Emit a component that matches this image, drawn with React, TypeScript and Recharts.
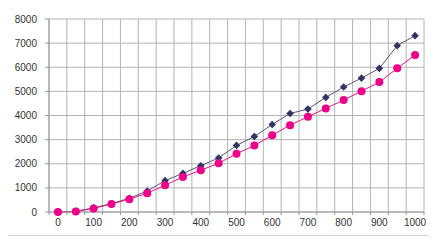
import React from "react";
import { ComposedChart, Line, XAxis, YAxis, CartesianGrid, Customized } from "recharts";

const xValues = [0, 50, 100, 150, 200, 250, 300, 350, 400, 450, 500, 550, 600, 650, 700, 750, 800, 850, 900, 950, 1000];
const navySeries = [0, 30, 170, 350, 570, 870, 1300, 1600, 1920, 2240, 2760, 3130, 3630, 4085, 4265, 4750, 5180, 5550, 5955, 6895, 7310];
const pinkSeries = [0, 20, 150, 330, 530, 780, 1110, 1455, 1730, 2020, 2410, 2760, 3185, 3600, 3945, 4295, 4640, 5010, 5385, 5955, 6507];
const yTicks = [0, 1000, 2000, 3000, 4000, 5000, 6000, 7000, 8000];

const data = xValues.map((x, i) => ({ x: String(x), navy: navySeries[i], pink: pinkSeries[i] }));

const Diamond = (props: any) => {
  const { cx, cy } = props;
  if (cx == null || cy == null) return null;
  const r = 3.8;
  return (
    <path
      d={`M${cx},${cy - r}L${cx + r},${cy}L${cx},${cy + r}L${cx - r},${cy}Z`}
      fill="#333366"
      stroke="none"
    />
  );
};

const font = "'Liberation Sans', Arial, sans-serif";
const PLOT_W = 375;
const HALF = PLOT_W / xValues.length / 2;

const XTick = (props: any) => {
  const { x, y, payload, index } = props;
  const i = payload && typeof payload.index === "number" ? payload.index : index;
  const isLast = i === xValues.length - 1;
  return (
    <g>
      <line x1={x - HALF} x2={x - HALF} y1={y - 8} y2={y - 5} stroke="#999" />
      {isLast && <line x1={x + HALF} x2={x + HALF} y1={y - 8} y2={y - 5} stroke="#999" />}
      {i % 2 === 0 && (
        <text x={x} y={y + 6} textAnchor="middle" fontSize={10} fill="#333" fontFamily={font}>
          {payload.value}
        </text>
      )}
    </g>
  );
};

const Frame = () => (
  <g>
    <rect x={1.5} y={1.5} width={433} height={241} fill="none" stroke="#d6d6d6" />
    <rect x={5.5} y={5.5} width={424} height={230} fill="none" stroke="#d6d6d6" />
  </g>
);

export default function App() {
  return (
    <div style={{ width: 437, height: 246, margin: -8, background: "#fff" }}>
      <ComposedChart width={437} height={246} data={data} margin={{ top: 19, right: 13, bottom: 0, left: 0 }}>
        <Customized component={Frame} />
        <CartesianGrid
          stroke="#b4b4b4"
          strokeWidth={1}
          verticalCoordinatesGenerator={({ offset }: any) =>
            Array.from({ length: xValues.length + 1 }, (_, k) => offset.left + (k * offset.width) / xValues.length)
          }
        />
        <XAxis
          dataKey="x"
          type="category"
          interval={0}
          padding={{ left: HALF, right: HALF }}
          tick={<XTick />}
          tickLine={false}
          tickSize={6}
          tickMargin={2}
          axisLine={{ stroke: "#999" }}
          height={34}
        />
        <YAxis
          domain={[0, 8000]}
          ticks={yTicks}
          interval={0}
          width={49}
          tick={{ fontSize: 10, fill: "#333", fontFamily: font }}
          tickSize={4}
          tickMargin={8}
          tickLine={{ stroke: "#999" }}
          axisLine={{ stroke: "#999" }}
        />
        <Line
          dataKey="navy"
          stroke="#55557f"
          strokeWidth={1}
          dot={<Diamond />}
          activeDot={false}
          isAnimationActive={false}
        />
        <Line
          dataKey="pink"
          stroke="#ee1188"
          strokeWidth={1}
          dot={{ r: 4, fill: "#ee0088", stroke: "none" }}
          activeDot={false}
          isAnimationActive={false}
        />
      </ComposedChart>
    </div>
  );
}
